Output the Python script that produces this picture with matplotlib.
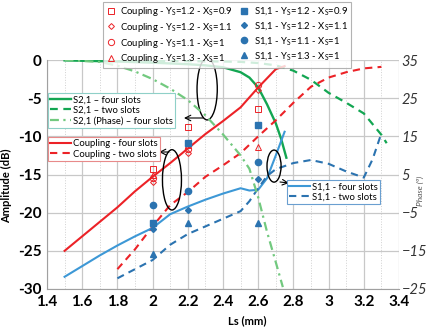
import matplotlib
matplotlib.use('Agg')
import matplotlib.pyplot as plt
from matplotlib.patches import Ellipse
from matplotlib.ticker import MultipleLocator

plt.rcParams['font.family'] = ['Lato', 'DejaVu Sans']

# Coupling (dB)
cpl4_x = [1.5, 1.6, 1.7, 1.8, 1.9, 2.0, 2.1, 2.2, 2.3, 2.4, 2.5, 2.6, 2.7, 2.75]
cpl4_y = [-25, -23.1, -21.2, -19.3, -17.2, -15.3, -13.5, -11.6, -9.7, -8.0, -6.2, -3.6, -1.2, -0.8]
cpl2_x = [1.8, 1.9, 2.0, 2.1, 2.2, 2.3, 2.4, 2.5, 2.6, 2.7, 2.8, 2.9, 3.0, 3.1, 3.2, 3.3]
cpl2_y = [-27.4, -24.8, -21.8, -19.0, -17.3, -15.3, -13.8, -12.2, -10.0, -7.9, -5.6, -3.5, -2.3, -1.6, -1.1, -0.9]

# S2,1 (dB)
s21_4_x = [1.5, 1.6, 1.8, 2.0, 2.2, 2.3, 2.4, 2.5, 2.55, 2.6, 2.65, 2.7, 2.73, 2.76]
s21_4_y = [-0.05, -0.1, -0.2, -0.35, -0.55, -0.7, -0.95, -1.6, -2.3, -3.6, -5.8, -8.3, -10.3, -12.8]
s21_2_x = [1.8, 2.0, 2.2, 2.4, 2.5, 2.6, 2.7, 2.8, 2.9, 3.0, 3.1, 3.2, 3.3, 3.33]
s21_2_y = [-0.1, -0.1, -0.15, -0.2, -0.25, -0.4, -0.7, -1.4, -2.6, -4.3, -5.6, -7.0, -9.8, -10.9]

# S2,1 phase (deg), right axis
ph_x = [1.5, 1.7, 1.8, 1.9, 2.0, 2.1, 2.2, 2.3, 2.4, 2.5, 2.55, 2.6, 2.65, 2.7, 2.74]
ph_y = [35, 34.5, 33.5, 32, 30, 27.5, 24.5, 20.5, 15.5, 10, 6.5, -1, -10, -18, -24.5]

# S1,1 (dB)
s11_4_x = [1.5, 1.6, 1.7, 1.8, 1.9, 2.0, 2.1, 2.2, 2.3, 2.4, 2.5, 2.55, 2.6, 2.65, 2.7, 2.75]
s11_4_y = [-28.4, -27.0, -25.6, -24.3, -23.1, -22.0, -20.2, -19.2, -18.3, -17.5, -16.8, -17.1, -17.0, -15.5, -12.5, -9.4]
s11_2_x = [1.8, 1.9, 2.0, 2.1, 2.2, 2.3, 2.4, 2.5, 2.55, 2.6, 2.65, 2.7, 2.8, 2.9, 3.0, 3.1, 3.2, 3.25, 3.3]
s11_2_y = [-28.6, -27.4, -26.2, -24.2, -22.8, -21.8, -20.8, -19.8, -18.5, -16.8, -15.2, -14.3, -13.5, -13.1, -13.6, -14.6, -15.4, -13.0, -9.6]

# measured points
pts_x = [2.0, 2.2, 2.6]
cpl_sq = [-14.3, -8.8, -6.4]
cpl_di = [-16.0, -12.2, -3.9]
cpl_ci = [-15.5, -11.7, -3.3]
cpl_tr = [-15.0, -11.2, -11.4]
s11_sq = [-21.4, -10.9, -8.5]
s11_di = [-22.2, -19.6, -15.6]
s11_ci = [-19.0, -17.2, -13.4]
s11_tr = [-25.4, -21.3, -21.3]

phase_ticks = [-25, -15, -5, 5, 15, 25, 35]

red = '#ec2227'
green = '#13a652'
lgreen = '#72c97f'
blue = '#3d98d6'
dblue = '#2b73b0'

fig = plt.figure(figsize=(4.28, 3.28), dpi=100)
ax = fig.add_axes([47/428, 39/328, 352/428, 229/328])
ax2 = ax.twinx()

l_s21_4, = ax.plot(s21_4_x, s21_4_y, color=green, lw=1.7)
l_s21_2, = ax.plot(s21_2_x, s21_2_y, color=green, lw=1.6, dashes=(3.5, 2.5))
l_ph, = ax2.plot(ph_x, ph_y, color=lgreen, lw=1.6, dashes=(4, 2, 1, 2))
l_c4, = ax.plot(cpl4_x, cpl4_y, color=red, lw=1.5)
l_c2, = ax.plot(cpl2_x, cpl2_y, color=red, lw=1.5, dashes=(3.5, 2.5))
l_s4, = ax.plot(s11_4_x, s11_4_y, color=blue, lw=1.5)
l_s2, = ax.plot(s11_2_x, s11_2_y, color=dblue, lw=1.5, dashes=(3.5, 2.5))

ms = 4.5
m_csq, = ax.plot(pts_x, cpl_sq, 's', ms=ms, mfc='none', mec=red, mew=0.7, ls='none')
m_cdi, = ax.plot(pts_x, cpl_di, 'D', ms=ms - 1.5, mfc='none', mec=red, mew=0.7, ls='none')
m_cci, = ax.plot(pts_x, cpl_ci, 'o', ms=ms, mfc='none', mec=red, mew=0.7, ls='none')
m_ctr, = ax.plot(pts_x, cpl_tr, '^', ms=ms, mfc='none', mec=red, mew=0.7, ls='none')
m_ssq, = ax.plot(pts_x, s11_sq, 's', ms=ms, color=dblue, ls='none')
m_sdi, = ax.plot(pts_x, s11_di, 'D', ms=ms - 1.5, color=dblue, ls='none')
m_sci, = ax.plot(pts_x, s11_ci, 'o', ms=ms, color=dblue, ls='none')
m_str, = ax.plot(pts_x, s11_tr, '^', ms=ms, color=dblue, ls='none')

ax.set_xlim(1.4, 3.4)
ax.set_ylim(-30, 0)
ax2.set_ylim(-25, 35)
ax.xaxis.set_major_locator(MultipleLocator(0.2))
ax.xaxis.set_minor_locator(MultipleLocator(0.1))
ax.yaxis.set_major_locator(MultipleLocator(5))
ax2.set_yticks(phase_ticks)
ax.grid(True, which='major', color='#c8c8c8', lw=0.9)
ax.grid(True, which='minor', axis='x', color='#d0d0d0', lw=0.7, ls=':')
ax.set_axisbelow(True)
for a in (ax, ax2):
    for s in a.spines.values():
        s.set_visible(False)
ax.spines['left'].set_visible(True)
ax.spines['bottom'].set_visible(True)
ax.spines['left'].set_color('#a0a0a0')
ax.spines['bottom'].set_color('#a0a0a0')

ax.tick_params(which='both', length=0, labelsize=11, pad=4)
ax2.tick_params(length=0, labelsize=10.5, pad=2, labelcolor='#333333')
ax.set_xticklabels([f'{v:g}' for v in ax.get_xticks()], fontweight='bold')
ax.set_yticklabels([f'{v:g}' for v in ax.get_yticks()], fontweight='bold')
for t in ax2.get_yticklabels():
    t.set_style('italic')

ax.set_xlabel('Ls (mm)', fontsize=8, fontweight='bold')
ax.xaxis.set_label_coords(0.57, -0.115)
ax.set_ylabel('Amplitude (dB)', fontsize=8, fontweight='bold')
ax.yaxis.set_label_coords(-0.1, 0.45)
ax2.set_ylabel('Phase (º)', fontsize=6, style='italic', color='#555555')
ax2.yaxis.set_label_coords(1.052, 0.43)

def px(x, y):
    return (x / 428, 1 - y / 328)

sub = r'$_\mathregular{S}$'
top = fig.legend([m_csq, m_cdi, m_cci, m_ctr, m_ssq, m_sdi, m_sci, m_str],
                 ['Coupling - Y' + sub + '=1.2 - X' + sub + '=0.9',
                  'Coupling - Y' + sub + '=1.2 - X' + sub + '=1.1',
                  'Coupling - Y' + sub + '=1.1 - X' + sub + '=1',
                  'Coupling - Y' + sub + '=1.3 - X' + sub + '=1',
                  'S1,1 - Y' + sub + '=1.2 - X' + sub + '=0.9',
                  'S1,1 - Y' + sub + '=1.2 - X' + sub + '=1.1',
                  'S1,1 - Y' + sub + '=1.1 - X' + sub + '=1',
                  'S1,1 - Y' + sub + '=1.3 - X' + sub + '=1'],
                 ncol=2, loc='upper left', bbox_to_anchor=px(103, 2),
                 fontsize=6.8, frameon=True, fancybox=False, handlelength=1,
                 handletextpad=0.5, columnspacing=0.7, labelspacing=0.3,
                 borderpad=0.3, borderaxespad=0)
top.get_frame().set_edgecolor('#a0a0a0')
top.get_frame().set_linewidth(0.8)

def box_legend(handles, labels, anchor, edge):
    lg = fig.legend(handles, labels, loc='upper left', bbox_to_anchor=anchor,
                    fontsize=6.8, frameon=True, fancybox=False, handlelength=2.2,
                    handletextpad=0.2, labelspacing=0.15, borderpad=0.25,
                    borderaxespad=0)
    lg.get_frame().set_edgecolor(edge)
    lg.get_frame().set_linewidth(0.8)
    lg.get_frame().set_alpha(1)
    return lg

box_legend([l_s21_4, l_s21_2, l_ph],
           ['S2,1 – four slots', 'S2,1 – two slots', 'S2,1 (Phase) – four slots'],
           px(48, 93), '#8fd0c8')
box_legend([l_c4, l_c2], ['Coupling - four slots', 'Coupling - two slots'],
           px(48, 137), '#e88a8a')
box_legend([l_s4, l_s2], ['S1,1 - four slots', 'S1,1 - two slots'],
           px(287, 180), '#6a9fd0')

for cx, cy, w, h in [(2.31, -3.8, 0.115, 8.1), (2.11, -15.7, 0.108, 7.9), (2.69, -13.9, 0.08, 4.2)]:
    ax.add_patch(Ellipse((cx, cy), w, h, fill=False, ec='black', lw=1.0, zorder=5))

arrow = dict(arrowstyle='->', color='black', lw=0.8, shrinkA=0, shrinkB=0)
for (x0, y0), (x1, y1) in [((203, 118), (184, 118)), ((169, 152), (159, 152)), ((280, 182), (289, 183))]:
    ax.annotate('', xy=px(x1, y1), xycoords='figure fraction',
                xytext=px(x0, y0), textcoords='figure fraction', arrowprops=arrow)

fig.savefig('out.png', dpi=100)
